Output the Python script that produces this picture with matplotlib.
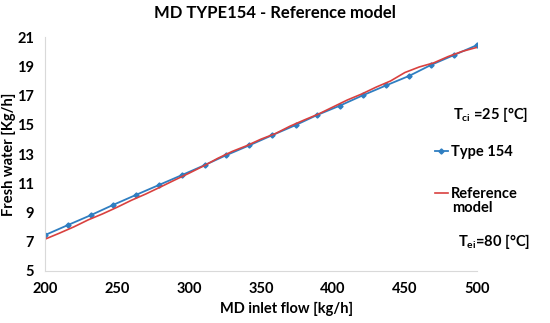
import numpy as np
import matplotlib
matplotlib.use('Agg')
import matplotlib.pyplot as plt

plt.rcParams['font.family'] = ['Lato', 'DejaVu Sans']
plt.rcParams['font.weight'] = 'bold'
plt.rcParams['mathtext.fontset'] = 'custom'
plt.rcParams['mathtext.rm'] = 'Lato:bold'
plt.rcParams['mathtext.bf'] = 'Lato:bold'

# Type 154 results
flow_type154 = [200, 216, 232, 247, 263, 279, 295, 311, 326, 342,
                358, 374, 389, 405, 421, 437, 453, 468, 484, 500]
water_type154 = [7.46, 8.15, 8.83, 9.51, 10.20, 10.88, 11.56, 12.25, 12.93, 13.60,
                 14.30, 14.98, 15.67, 16.32, 17.03, 17.70, 18.35, 19.09, 19.77, 20.45]

# Reference model
flow_ref = [200, 210, 220, 230, 240, 250, 260, 270, 280, 290, 300,
            310, 320, 330, 340, 350, 360, 370, 380, 390, 400,
            410, 420, 430, 440, 450, 460, 470, 480, 490, 500]
water_ref = [7.18, 7.59, 8.02, 8.50, 8.91, 9.36, 9.84, 10.27, 10.74, 11.22, 11.69,
             12.18, 12.71, 13.18, 13.57, 14.02, 14.40, 14.90, 15.33, 15.74, 16.22,
             16.70, 17.11, 17.58, 18.00, 18.58, 18.96, 19.24, 19.67, 20.03, 20.30]

blue = '#2F7EC1'
red = '#D9413F'

fig = plt.figure(figsize=(5.5, 3.23), dpi=100)
ax = fig.add_axes([0.082, 0.161, 0.785, 0.724])

ax.plot(flow_type154, water_type154, color=blue, lw=1.3, marker='D', ms=2.6,
        label='Type 154')
ax.plot(flow_ref, water_ref, color=red, lw=1.2, label='Reference')

ax.set_xlim(200, 500)
ax.set_ylim(5, 21)
ax.set_xticks(np.arange(200, 501, 50))
ax.set_yticks(np.arange(5, 22, 2))
ax.tick_params(length=0, labelsize=10.5, pad=8)
for s in ['top', 'right']:
    ax.spines[s].set_visible(False)
for s in ['left', 'bottom']:
    ax.spines[s].set_color('#D9D9D9')

ax.set_xlabel('MD inlet flow [kg/h]', fontsize=10.5, fontweight='bold')
ax.xaxis.set_label_coords(0.56, -0.13)
ax.set_ylabel('Fresh water [Kg/h]', fontsize=10.5, fontweight='bold')
ax.yaxis.set_label_coords(-0.068, 0.5)
fig.suptitle('MD TYPE154 - Reference model', fontsize=12, fontweight='bold', y=0.985)

ax.legend(loc='upper left', bbox_to_anchor=(0.79, 0.55), bbox_transform=fig.transFigure,
          frameon=False, handlelength=0.9, handletextpad=0.25, labelspacing=1.9,
          borderpad=0, borderaxespad=0, prop={'weight': 'bold', 'size': 10.5})
fig.text(0.822, 0.356, 'model', fontsize=10.5, fontweight='bold', va='center')

fig.text(0.823, 0.632, r'T$_{\mathbf{ci}}$ =25 [°C]', fontsize=10.5, fontweight='bold')
fig.text(0.833, 0.237, r'T$_{\mathbf{ei}}$=80 [°C]', fontsize=10.5, fontweight='bold')

fig.savefig('out.png', dpi=100)
